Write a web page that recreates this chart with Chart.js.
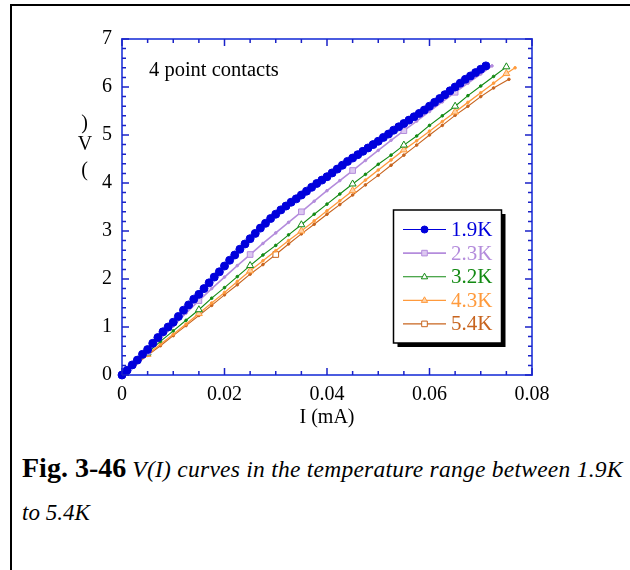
<!DOCTYPE html>
<html>
<head>
<meta charset="utf-8">
<script src="https://cdn.jsdelivr.net/npm/chart.js@4.4.0/dist/chart.umd.min.js"></script>
<style>
  html, body { margin: 0; padding: 0; background: #fff; }
  body { width: 630px; height: 570px; position: relative; overflow: hidden; font-family: "Liberation Serif", serif; }
  #frameTop { position: absolute; left: 10px; top: 4px; width: 620px; height: 2px; background: #000; }
  #frameLeft { position: absolute; left: 10px; top: 4px; width: 2px; height: 566px; background: #000; }
  #chartBox { position: absolute; left: 0; top: 0; }
  .cap { position: absolute; left: 22px; white-space: nowrap; line-height: 1; color: #000; font-family: "Liberation Serif", serif; }
  .capBold { font-weight: bold; font-size: 28px; }
  .capIt { font-style: italic; font-size: 23.5px; }
</style>
</head>
<body>
<div id="frameTop"></div>
<div id="frameLeft"></div>
<div id="chartBox"><canvas id="vi" width="630" height="440"></canvas></div>
<div class="cap" style="top:454px;font-size:28px;"><span class="capBold">Fig. 3-46</span><span class="capIt" style="letter-spacing:0.25px;"> V(I) curves in the temperature range between 1.9K</span></div>
<div class="cap capIt" style="top:501px;font-size:23px;">to 5.4K</div>

<script>
// I (mA) and V (V)
const current19 = [0, 0.001, 0.002, 0.003, 0.004, 0.005, 0.006, 0.007, 0.008, 0.009,
  0.010, 0.011, 0.012, 0.013, 0.014, 0.015, 0.016, 0.017, 0.018, 0.019,
  0.020, 0.021, 0.022, 0.023, 0.024, 0.025, 0.026, 0.027, 0.028, 0.029,
  0.030, 0.031, 0.032, 0.033, 0.034, 0.035, 0.036, 0.037, 0.038, 0.039,
  0.040, 0.041, 0.042, 0.043, 0.044, 0.045, 0.046, 0.047, 0.048, 0.049,
  0.050, 0.051, 0.052, 0.053, 0.054, 0.055, 0.056, 0.057, 0.058, 0.059,
  0.060, 0.061, 0.062, 0.063, 0.064, 0.065, 0.066, 0.067, 0.068, 0.069,
  0.070, 0.071];
const volt19 = [0, 0.10, 0.21, 0.31, 0.43, 0.53, 0.66, 0.78, 0.90, 1.00,
  1.10, 1.22, 1.35, 1.46, 1.58, 1.68, 1.80, 1.92, 2.04, 2.15,
  2.27, 2.39, 2.50, 2.62, 2.73, 2.84, 2.95, 3.06, 3.16, 3.26,
  3.35, 3.44, 3.52, 3.60, 3.67, 3.75, 3.83, 3.91, 3.99, 4.06,
  4.13, 4.21, 4.29, 4.37, 4.45, 4.52, 4.59, 4.66, 4.73, 4.80,
  4.87, 4.95, 5.02, 5.10, 5.17, 5.24, 5.31, 5.38, 5.45, 5.52,
  5.60, 5.68, 5.76, 5.84, 5.92, 6.00, 6.08, 6.16, 6.23, 6.30,
  6.37, 6.44];

const current23 = [0, 0.0025, 0.005, 0.0075, 0.010, 0.0125, 0.015, 0.0175, 0.020, 0.0225,
  0.025, 0.0275, 0.030, 0.0325, 0.035, 0.0375, 0.040, 0.0425, 0.045, 0.0475,
  0.050, 0.0525, 0.055, 0.0575, 0.060, 0.0625, 0.065, 0.0675, 0.070, 0.0722];
const volt23 = [0, 0.24, 0.49, 0.76, 1.02, 1.29, 1.55, 1.80, 2.04, 2.28,
  2.51, 2.74, 2.96, 3.18, 3.40, 3.62, 3.84, 4.05, 4.26, 4.47,
  4.68, 4.89, 5.09, 5.29, 5.49, 5.69, 5.89, 6.08, 6.27, 6.44];

const current32 = [0, 0.0025, 0.005, 0.0075, 0.010, 0.0125, 0.015, 0.0175, 0.020, 0.0225,
  0.025, 0.0275, 0.030, 0.0325, 0.035, 0.0375, 0.040, 0.0425, 0.045, 0.0475,
  0.050, 0.0525, 0.055, 0.0575, 0.060, 0.0625, 0.065, 0.0675, 0.070, 0.0725,
  0.075];
const volt32 = [0, 0.23, 0.46, 0.70, 0.92, 1.14, 1.36, 1.60, 1.82, 2.05,
  2.28, 2.50, 2.70, 2.92, 3.13, 3.35, 3.56, 3.77, 3.98, 4.18,
  4.39, 4.58, 4.79, 4.98, 5.20, 5.40, 5.60, 5.82, 6.02, 6.22,
  6.42];

const current43 = [0, 0.0025, 0.005, 0.0075, 0.010, 0.0125, 0.015, 0.0175, 0.020, 0.0225,
  0.025, 0.0275, 0.030, 0.0325, 0.035, 0.0375, 0.040, 0.0425, 0.045, 0.0475,
  0.050, 0.0525, 0.055, 0.0575, 0.060, 0.0625, 0.065, 0.0675, 0.070, 0.0725,
  0.075, 0.0767];
const volt43 = [0, 0.21, 0.43, 0.64, 0.85, 1.06, 1.28, 1.50, 1.72, 1.95,
  2.17, 2.38, 2.59, 2.80, 3.00, 3.21, 3.42, 3.63, 3.84, 4.06,
  4.27, 4.48, 4.69, 4.88, 5.08, 5.28, 5.48, 5.68, 5.88, 6.08,
  6.28, 6.40];

const current54 = [0, 0.0025, 0.005, 0.0075, 0.010, 0.0125, 0.015, 0.0175, 0.020, 0.0225,
  0.025, 0.0275, 0.030, 0.0325, 0.035, 0.0375, 0.040, 0.0425, 0.045, 0.0475,
  0.050, 0.0525, 0.055, 0.0575, 0.060, 0.0625, 0.065, 0.0675, 0.070, 0.0725,
  0.0755];
const volt54 = [0, 0.20, 0.41, 0.61, 0.82, 1.03, 1.24, 1.45, 1.67, 1.88,
  2.10, 2.30, 2.51, 2.73, 2.94, 3.14, 3.35, 3.55, 3.75, 3.96,
  4.16, 4.37, 4.58, 4.79, 5.00, 5.20, 5.41, 5.60, 5.80, 5.98,
  6.16];

// currents where the big symbol is drawn
const markedI = [0.005, 0.015, 0.025, 0.035, 0.045, 0.055, 0.065, 0.075];
const markedI54 = [0.030];

const seriesLabels = ['1.9K', '2.3K', '3.2K', '4.3K', '5.4K'];
const xTicks = [0, 0.02, 0.04, 0.06, 0.08];
const yTicks = [0, 1, 2, 3, 4, 5, 6, 7];

const FONT = '"Liberation Serif", serif';
Chart.defaults.font.family = FONT;
Chart.defaults.color = '#000';

const toPoints = (xs, ys) => xs.map((x, i) => ({ x: x, y: ys[i] }));
const isMarked = (marks, x) => marks.some(m => Math.abs(m - x) < 1e-6);

function series(label, xs, ys, color, fill, style, marks, lineWidth) {
  return {
    label: label,
    data: toPoints(xs, ys),
    borderColor: color,
    borderWidth: lineWidth,
    tension: 0,
    clip: 8,
    markerStyle: style,
    markerFill: fill,
    pointStyle: ctx => (marks === null || isMarked(marks, ctx.raw.x)) ? style : 'circle',
    pointRadius: ctx => (marks === null || isMarked(marks, ctx.raw.x)) ? 4 : 1.3,
    pointBackgroundColor: ctx => (marks === null || isMarked(marks, ctx.raw.x)) ? fill : color,
    pointBorderColor: color,
    pointBorderWidth: 1,
  };
}

// inward ticks on all four sides + top/right frame
const frameTicks = {
  id: 'frameTicks',
  afterDatasetsDraw(chart) {
    const { ctx, chartArea: a, scales } = chart;
    ctx.save();
    ctx.strokeStyle = '#4b5ce0';
    ctx.lineWidth = 2;
    ctx.beginPath();
    ctx.moveTo(a.left, a.top); ctx.lineTo(a.right, a.top); ctx.lineTo(a.right, a.bottom);
    ctx.stroke();
    ctx.strokeStyle = '#1a22c8';
    ctx.lineWidth = 1.5;
    ctx.beginPath();
    const xs = scales.x;
    const nx = Math.round((xs.max - xs.min) / 0.005);
    for (let i = 0; i <= nx; i++) {
      const px = xs.getPixelForValue(xs.min + i * 0.005);
      const len = i % 4 === 0 ? 7 : 4;
      ctx.moveTo(px, a.bottom); ctx.lineTo(px, a.bottom - len);
      ctx.moveTo(px, a.top); ctx.lineTo(px, a.top + len);
    }
    const ys = scales.y;
    const ny = Math.round((ys.max - ys.min) / 0.2);
    for (let i = 0; i <= ny; i++) {
      const py = ys.getPixelForValue(ys.min + i * 0.2);
      const len = i % 5 === 0 ? 7 : 4;
      ctx.moveTo(a.left, py); ctx.lineTo(a.left + len, py);
      ctx.moveTo(a.right, py); ctx.lineTo(a.right - len, py);
    }
    ctx.stroke();
    ctx.restore();
  }
};

function drawMarker(ctx, style, x, y, r) {
  ctx.beginPath();
  if (style === 'circle') {
    ctx.arc(x, y, r, 0, Math.PI * 2);
  } else if (style === 'rect') {
    ctx.rect(x - r * 0.8, y - r * 0.8, r * 1.6, r * 1.6);
  } else {
    ctx.moveTo(x, y - r);
    ctx.lineTo(x + r * 0.9, y + r * 0.6);
    ctx.lineTo(x - r * 0.9, y + r * 0.6);
    ctx.closePath();
  }
  ctx.fill();
  ctx.stroke();
}

// legend box inside the plot, annotation and the odd y-title
const annotations = {
  id: 'annotations',
  afterDraw(chart) {
    const ctx = chart.ctx;
    ctx.save();
    // legend with drop shadow
    const bx = 393.5, by = 210, bw = 108, bh = 133;
    ctx.fillStyle = '#000';
    ctx.fillRect(bx + 4, by + 4, bw, bh);
    ctx.fillStyle = '#fff';
    ctx.fillRect(bx, by, bw, bh);
    ctx.strokeStyle = '#000';
    ctx.lineWidth = 1.5;
    ctx.strokeRect(bx, by, bw, bh);
    ctx.font = '21px ' + FONT;
    ctx.textBaseline = 'middle';
    chart.data.datasets.forEach((ds, i) => {
      const y = 229.5 + i * 23.6;
      ctx.strokeStyle = ds.borderColor;
      ctx.lineWidth = ds.borderWidth;
      ctx.beginPath();
      ctx.moveTo(403, y); ctx.lineTo(446, y);
      ctx.stroke();
      ctx.fillStyle = ds.markerFill;
      ctx.lineWidth = 1;
      drawMarker(ctx, ds.markerStyle, 424.5, y, 3.5);
      ctx.fillStyle = ds.borderColor;
      ctx.textAlign = 'left';
      ctx.fillText(ds.label, 451, y + 1);
    });
    ctx.fillStyle = '#000';
    ctx.textAlign = 'left';
    ctx.textBaseline = 'alphabetic';
    ctx.font = '20.5px ' + FONT;
    ctx.fillText('4 point contacts', 149, 76);
    ctx.font = '20px ' + FONT;
    ctx.textAlign = 'center';
    ctx.textBaseline = 'middle';
    ctx.fillText(')', 84.5, 124);
    ctx.fillText('V', 85, 145);
    ctx.fillText('(', 84.5, 171);
    ctx.restore();
  }
};

new Chart(document.getElementById('vi').getContext('2d'), {
  type: 'line',
  data: {
    datasets: [
      series(seriesLabels[0], current19, volt19, '#0000dc', '#0000dc', 'circle', null, 1.2),
      series(seriesLabels[1], current23, volt23, '#b48cdc', '#dcc8f0', 'rect', markedI, 1.6),
      series(seriesLabels[2], current32, volt32, '#138a13', '#ffffff', 'triangle', markedI, 1.1),
      series(seriesLabels[3], current43, volt43, '#ff9a3c', '#ffd2a6', 'triangle', markedI, 1.3),
      series(seriesLabels[4], current54, volt54, '#c8641e', '#ffffff', 'rect', markedI54, 1.1),
    ],
  },
  options: {
    responsive: false,
    animation: false,
    events: [],
    layout: { padding: { left: 92, right: 98, top: 39, bottom: 10 } },
    plugins: {
      legend: { display: false },
      tooltip: { enabled: false },
    },
    scales: {
      x: {
        type: 'linear',
        min: xTicks[0],
        max: xTicks[xTicks.length - 1],
        afterFit(scale) { scale.height = 55; },
        afterBuildTicks(scale) { scale.ticks = xTicks.map(v => ({ value: v })); },
        grid: { drawOnChartArea: false, drawTicks: false },
        border: { display: true, color: '#4b5ce0', width: 2 },
        ticks: {
          padding: 8,
          font: { size: 20 },
          maxRotation: 0,
          callback: v => v === 0 ? '0' : v.toFixed(2),
        },
        title: { display: true, text: 'I (mA)', font: { size: 20 }, padding: 0 },
      },
      y: {
        type: 'linear',
        min: yTicks[0],
        max: yTicks[yTicks.length - 1],
        afterFit(scale) { scale.width = 30; },
        afterBuildTicks(scale) { scale.ticks = yTicks.map(v => ({ value: v })); },
        grid: { drawOnChartArea: false, drawTicks: false },
        border: { display: true, color: '#4b5ce0', width: 2 },
        ticks: { padding: 10, font: { size: 20 } },
      },
    },
  },
  plugins: [frameTicks, annotations],
});
</script>
</body>
</html>
